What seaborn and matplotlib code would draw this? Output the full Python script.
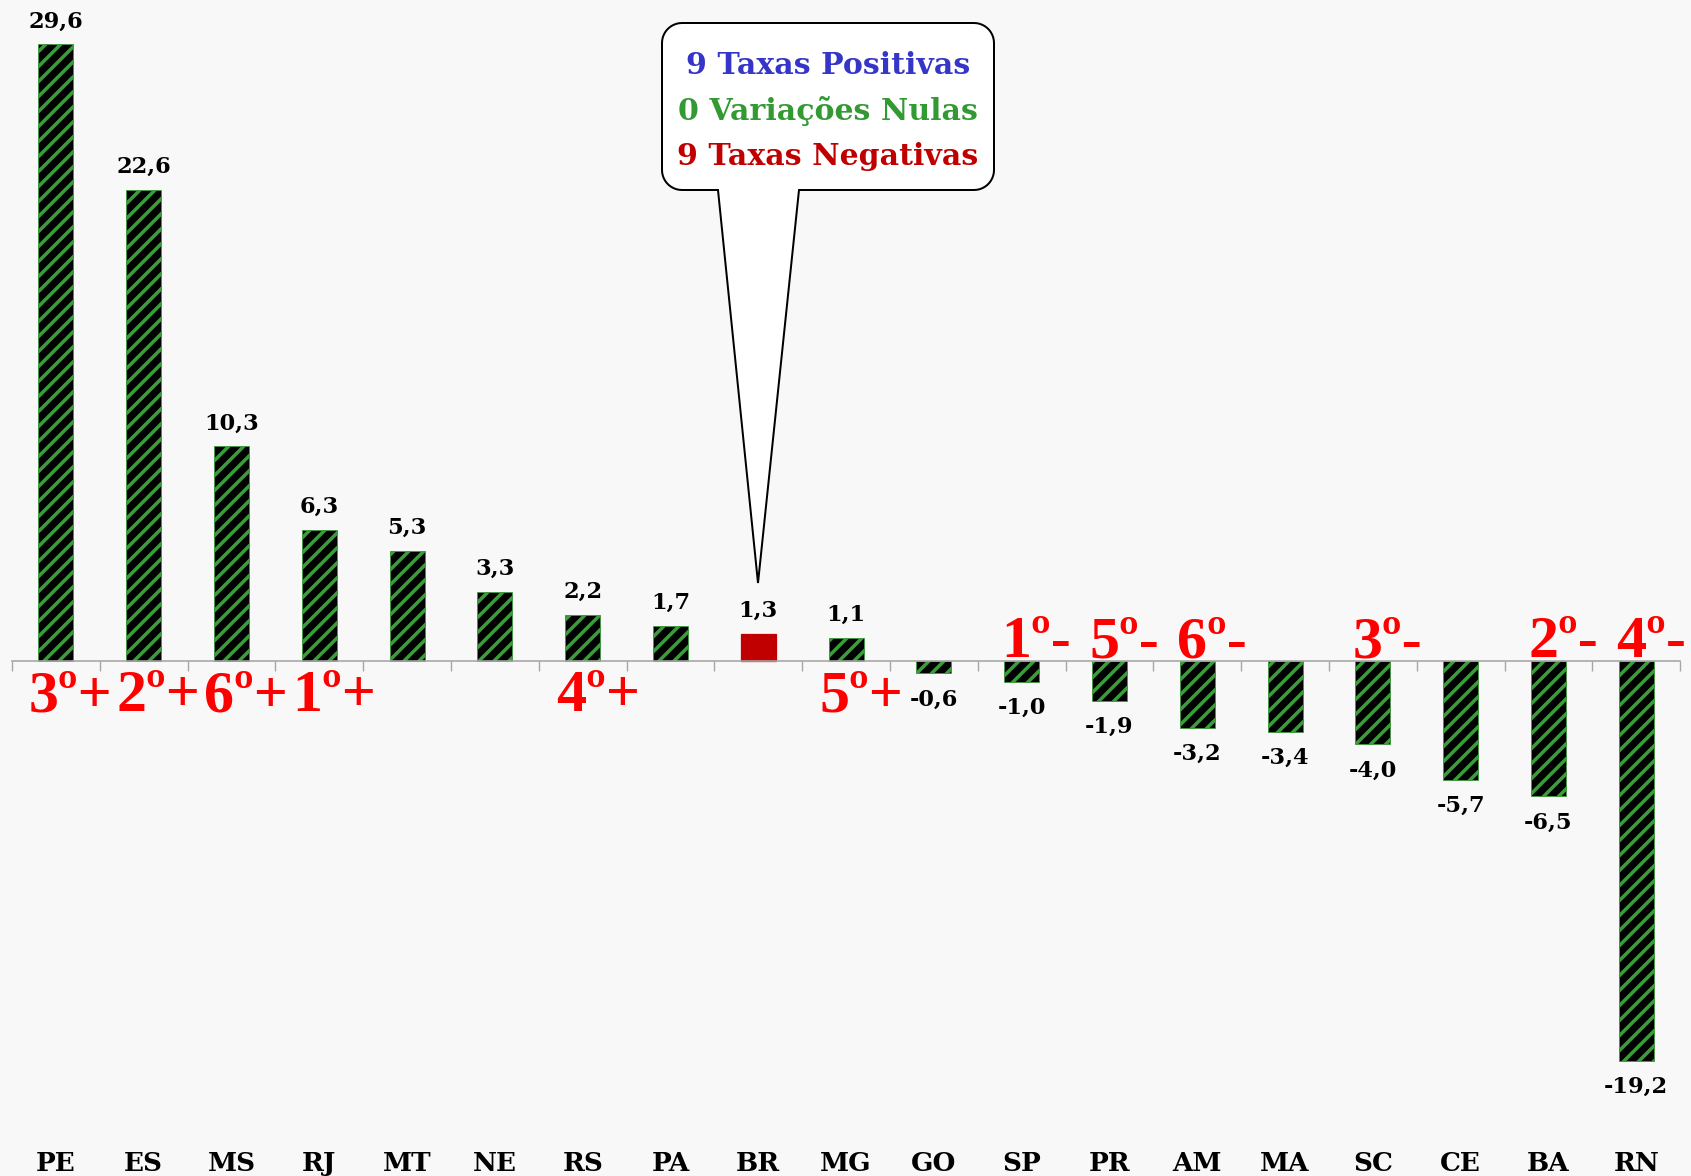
import numpy as np
import matplotlib
matplotlib.use('Agg')
import matplotlib.pyplot as plt
import seaborn as sns
from matplotlib.patches import Polygon

# data
cats = ['PE', 'ES', 'MS', 'RJ', 'MT', 'NE', 'RS', 'PA', 'BR', 'MG',
        'GO', 'SP', 'PR', 'AM', 'MA', 'SC', 'CE', 'BA', 'RN']
vals = [29.6, 22.6, 10.3, 6.3, 5.3, 3.3, 2.2, 1.7, 1.3, 1.1,
        -0.6, -1.0, -1.9, -3.2, -3.4, -4.0, -5.7, -6.5, -19.2]
ranks = ['3º+', '2º+', '6º+', '1º+', '', '', '4º+', '', '', '5º+',
         '', '1º-', '5º-', '6º-', '', '3º-', '', '2º-', '4º-']
callout_lines = ['9 Taxas Positivas', '0 Variações Nulas', '9 Taxas Negativas']
callout_colors = ['#3535c8', '#339933', '#c00000']

GREEN = '#3a9d3a'
BG = '#f8f8f8'

sns.set_theme(style='white')
plt.rcParams['font.family'] = ['DejaVu Serif']
plt.rcParams['hatch.linewidth'] = 2.8

W, H, DPI = 1691, 1176, 90
PPX = 87.8      # pixels per category
PPY = 20.83     # pixels per unit
ZERO_PY = 661   # pixel row of the zero line
X_LEFT = -0.5 - 12 / PPX

fig = plt.figure(figsize=(W / DPI, H / DPI), dpi=DPI)
fig.patch.set_facecolor(BG)
ax = fig.add_axes([0, 0, 1, 1])
ax.set_facecolor(BG)

sns.barplot(x=cats, y=vals, order=cats, color='black', width=0.4,
            saturation=1, ax=ax)

for p, c in zip(ax.patches, cats):
    if c == 'BR':
        p.set_facecolor('#c00000')
        p.set_edgecolor('#c00000')
        p.set_hatch(None)
    else:
        p.set_facecolor('black')
        p.set_edgecolor(GREEN)
        p.set_linewidth(0.6)
        p.set_hatch('//')

ax.set_xlim(X_LEFT, X_LEFT + W / PPX)
ax.set_ylim(-(H - ZERO_PY) / PPY, ZERO_PY / PPY)

# axis line at zero with ticks between categories
for s in ['left', 'right', 'top']:
    ax.spines[s].set_visible(False)
ax.spines['bottom'].set_position(('data', 0))
ax.spines['bottom'].set_bounds(-0.5, len(cats) - 0.5)
ax.spines['bottom'].set_color('#a6a6a6')
ax.spines['bottom'].set_linewidth(1.3)
ax.spines['bottom'].set_zorder(5)
ax.set_xticks(np.arange(-0.5, len(cats), 1))
ax.set_xticklabels([])
ax.tick_params(axis='x', bottom=True, direction='out', length=8,
               width=1.1, color='#a6a6a6')
ax.set_yticks([])
ax.set_xlabel('')
ax.set_ylabel('')

# value labels
for i, v in enumerate(vals):
    txt = f'{v:.1f}'.replace('.', ',')
    if v >= 0:
        ax.text(i, v + 17 / PPY, txt, ha='center', va='baseline',
                fontsize=18, fontweight='bold', color='black')
    else:
        ax.text(i, v - 15 / PPY, txt, ha='center', va='top',
                fontsize=18, fontweight='bold', color='black')

# category labels
for i, c in enumerate(cats):
    ax.text(i, (ZERO_PY - 1171) / PPY, c, ha='center', va='baseline',
            fontsize=21, fontweight='bold', color='black')

# ranking labels
for i, (v, r) in enumerate(zip(vals, ranks)):
    if not r:
        continue
    y = (ZERO_PY - 711) / PPY if v >= 0 else (ZERO_PY - 657) / PPY
    ax.text(i + 0.17, y, r, ha='center', va='baseline', fontsize=48,
            fontweight='bold', color='#ff0000', family='Liberation Serif')


# callout balloon (pixel outline converted to data units)
def to_data(px, py):
    return X_LEFT + px / PPX, (ZERO_PY - py) / PPY


L, R, T, B, rad = 662, 994, 23, 190, 20
pts = [(758, 583), (799, B), (R - rad, B)]
for cx, cy, a0, a1 in [(R - rad, B - rad, 90, 0), (R - rad, T + rad, 0, -90),
                       (L + rad, T + rad, -90, -180), (L + rad, B - rad, 180, 90)]:
    for t in np.linspace(np.radians(a0), np.radians(a1), 12):
        pts.append((cx + rad * np.cos(t), cy + rad * np.sin(t)))
pts.append((718, B))
ax.add_patch(Polygon([to_data(*p) for p in pts], closed=True,
                     facecolor='white', edgecolor='black', linewidth=1.6,
                     zorder=6))

for k, (line, col) in enumerate(zip(callout_lines, callout_colors)):
    x, y = to_data(828, 74 + 45.5 * k)
    ax.text(x, y, line, ha='center', va='baseline', fontsize=24,
            fontweight='bold', color=col, zorder=7)

fig.savefig('out.png', dpi=DPI, facecolor=BG)
